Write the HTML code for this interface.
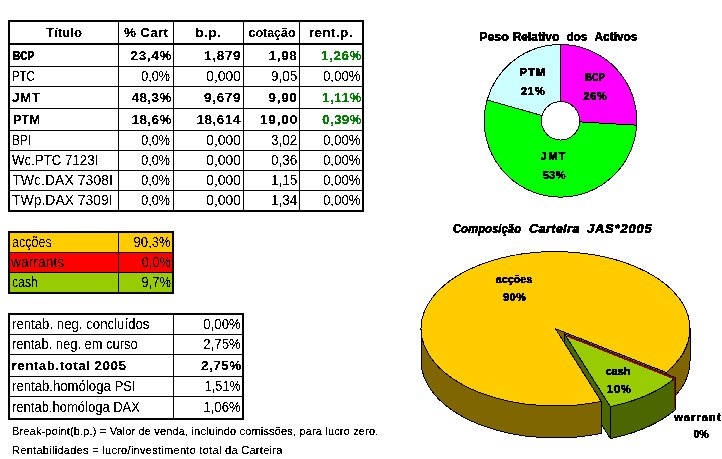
<!DOCTYPE html>
<html><head><meta charset="utf-8"><title>Carteira JAS 2005</title>
<style>
html,body{margin:0;padding:0;background:#fff;}
body{width:722px;height:459px;position:relative;overflow:hidden;font-family:"Liberation Sans",sans-serif;color:#000;}
svg{position:absolute;left:0;top:0;}
.t{position:absolute;white-space:nowrap;filter:url(#cr);}
</style></head><body>
<svg width="722" height="459" viewBox="0 0 722 459" shape-rendering="crispEdges">
<defs>
<filter id="cr" x="-5%" y="-30%" width="110%" height="160%" color-interpolation-filters="sRGB"><feComponentTransfer><feFuncA type="discrete" tableValues="0 0 0 0 0 0 0 0 0 0 0 0 0 0 0 0 0 0 0 0 0 0 1 1 1 1 1 1 1 1 1 1 1 1 1 1 1 1 1 1 1 1 1 1 1 1 1 1 1 1"/></feComponentTransfer></filter>
<filter id="cb" x="-5%" y="-30%" width="110%" height="160%" color-interpolation-filters="sRGB"><feComponentTransfer><feFuncA type="discrete" tableValues="0 1"/></feComponentTransfer></filter>
<filter id="cc" x="-5%" y="-30%" width="110%" height="160%" color-interpolation-filters="sRGB"><feComponentTransfer><feFuncA type="discrete" tableValues="0 0 1 1 1 1"/></feComponentTransfer></filter>
<filter id="cs" x="-5%" y="-30%" width="110%" height="160%" color-interpolation-filters="sRGB"><feComponentTransfer><feFuncA type="discrete" tableValues="0 0 0 0 0 0 0 0 0 0 0 0 0 0 0 0 0 0 1 1 1 1 1 1 1 1 1 1 1 1 1 1 1 1 1 1 1 1 1 1 1 1 1 1 1 1 1 1 1 1"/></feComponentTransfer></filter>
</defs>
<rect x="8" y="20" width="356" height="2" fill="#000"/>
<rect x="8" y="43" width="356" height="2" fill="#000"/>
<rect x="8" y="210" width="356" height="2" fill="#000"/>
<rect x="8" y="20" width="2" height="192" fill="#000"/>
<rect x="362" y="20" width="2" height="192" fill="#000"/>
<rect x="118" y="22" width="1" height="188" fill="#000"/>
<rect x="173" y="22" width="1" height="188" fill="#000"/>
<rect x="243" y="22" width="1" height="188" fill="#000"/>
<rect x="299" y="22" width="1" height="188" fill="#000"/>
<rect x="10" y="66" width="352" height="1" fill="#000"/>
<rect x="10" y="86" width="352" height="1" fill="#000"/>
<rect x="10" y="108" width="352" height="1" fill="#000"/>
<rect x="10" y="130" width="352" height="1" fill="#000"/>
<rect x="10" y="150" width="352" height="1" fill="#000"/>
<rect x="10" y="170" width="352" height="1" fill="#000"/>
<rect x="10" y="190" width="352" height="1" fill="#000"/>
<rect x="8" y="231" width="166" height="63" fill="#000"/>
<rect x="10" y="233" width="108" height="19" fill="#FFCC00"/>
<rect x="119" y="233" width="53" height="19" fill="#FFCC00"/>
<rect x="10" y="253" width="108" height="19" fill="#FF0000"/>
<rect x="119" y="253" width="53" height="19" fill="#FF0000"/>
<rect x="10" y="273" width="108" height="19" fill="#99CC00"/>
<rect x="119" y="273" width="53" height="19" fill="#99CC00"/>
<rect x="8" y="313" width="236" height="2" fill="#000"/>
<rect x="8" y="418" width="236" height="2" fill="#000"/>
<rect x="8" y="313" width="2" height="107" fill="#000"/>
<rect x="242" y="313" width="2" height="107" fill="#000"/>
<rect x="173" y="315" width="1" height="103" fill="#000"/>
<rect x="10" y="334" width="232" height="1" fill="#000"/>
<rect x="10" y="354" width="232" height="1" fill="#000"/>
<rect x="10" y="376" width="232" height="1" fill="#000"/>
<rect x="10" y="396" width="232" height="1" fill="#000"/>
<path d="M560.50,44.50 A76.3,76.3 0 0 1 636.67,125.18 L579.67,121.90 A19.2,19.2 0 0 0 560.50,101.60 Z" fill="#FF00FF" stroke="#000" stroke-width="1" stroke-linejoin="round" shape-rendering="crispEdges"/>
<path d="M636.67,125.18 A76.3,76.3 0 1 1 487.10,99.96 L542.03,115.56 A19.2,19.2 0 1 0 579.67,121.90 Z" fill="#00FF00" stroke="#000" stroke-width="1" stroke-linejoin="round" shape-rendering="crispEdges"/>
<path d="M487.10,99.96 A76.3,76.3 0 0 1 560.50,44.50 L560.50,101.60 A19.2,19.2 0 0 0 542.03,115.56 Z" fill="#CCFFFF" stroke="#000" stroke-width="1" stroke-linejoin="round" shape-rendering="crispEdges"/>
<g shape-rendering="crispEdges" stroke-linejoin="round"><path d="M555.50,328.75 L666.34,372.50 L666.34,404.50 L555.5,360.75 Z" fill="#806600" stroke="#000" stroke-width="1"/><path d="M564.60,334.00 L610.38,406.64 L610.38,438.64 L564.6,366.0 Z" fill="#4C6600" stroke="#000" stroke-width="1"/><path d="M555.50,328.75 L601.28,401.39 A134.5,77.25 0 1 1 666.34,372.50 Z" fill="#FFCC00" stroke="#000" stroke-width="1"/><path d="M690.00,328.75 A134.5,77.25 0 0 1 666.34,372.50 L666.34,404.50 A134.5,77.25 0 0 0 690.00,360.75 Z" fill="#806600" stroke="#000" stroke-width="1"/><path d="M601.28,401.39 A134.5,77.25 0 0 1 421.00,328.75 L421.00,360.75 A134.5,77.25 0 0 0 601.28,433.39 Z" fill="#806600" stroke="#000" stroke-width="1"/><path d="M675.44,377.75 A134.5,77.25 0 0 1 610.38,406.64 L610.38,438.64 A134.5,77.25 0 0 0 675.44,409.75 Z" fill="#4C6600" stroke="#000" stroke-width="1"/><path d="M564.60,334.00 L675.44,377.75 A134.5,77.25 0 0 1 610.38,406.64 Z" fill="#99CC00" stroke="#000" stroke-width="1"/><path d="M567.10,335.90 L674.54,378.65 L674.54,407.75" fill="none" stroke="#990000" stroke-width="1.6"/></g>
</svg>
<div class="t" style="font-size:13.5px;font-weight:bold;-webkit-text-stroke:0.15px;filter:url(#cb);left:-135.65px;width:400px;text-align:center;transform:scaleX(0.977);transform-origin:50% 50%;top:26px;line-height:13.5px;">Título</div>
<div class="t" style="font-size:13.5px;font-weight:bold;-webkit-text-stroke:0.15px;filter:url(#cb);letter-spacing:0.25px;left:-53.97px;width:400px;text-align:center;top:26px;line-height:13.5px;">% Cart</div>
<div class="t" style="font-size:13.5px;font-weight:bold;-webkit-text-stroke:0.15px;filter:url(#cb);letter-spacing:0.3px;left:8.20px;width:400px;text-align:center;top:26px;line-height:13.5px;">b.p.</div>
<div class="t" style="font-size:13.5px;font-weight:bold;-webkit-text-stroke:0.15px;filter:url(#cb);left:71.50px;width:400px;text-align:center;transform:scaleX(0.921);transform-origin:50% 50%;top:26px;line-height:13.5px;">cotação</div>
<div class="t" style="font-size:13.5px;font-weight:bold;-webkit-text-stroke:0.15px;filter:url(#cb);letter-spacing:0.39px;left:130.89px;width:400px;text-align:center;top:26px;line-height:13.5px;">rent.p.</div>
<div class="t" style="font-size:13.5px;font-weight:bold;-webkit-text-stroke:0.3px;filter:url(#cc);left:12.700000000000001px;transform:scaleX(0.74);transform-origin:0 50%;top:49px;line-height:13.5px;">BCP</div>
<div class="t" style="font-size:13.5px;font-weight:bold;-webkit-text-stroke:0.15px;filter:url(#cb);letter-spacing:0.66px;right:549.94px;top:49px;line-height:13.5px;">23,4%</div>
<div class="t" style="font-size:13.5px;font-weight:bold;-webkit-text-stroke:0.15px;filter:url(#cb);letter-spacing:0.6px;right:480.90px;top:49px;line-height:13.5px;">1,879</div>
<div class="t" style="font-size:13.5px;font-weight:bold;-webkit-text-stroke:0.15px;filter:url(#cb);letter-spacing:0.64px;right:424.56px;top:49px;line-height:13.5px;">1,98</div>
<div class="t" style="font-size:13.5px;font-weight:bold;-webkit-text-stroke:0.15px;filter:url(#cb);color:#008000;letter-spacing:0.53px;right:359.97px;top:49px;line-height:13.5px;">1,26%</div>
<div class="t" style="font-size:14px;left:12.0px;transform:scaleX(0.804);transform-origin:0 50%;top:69px;line-height:14px;">PTC</div>
<div class="t" style="font-size:14px;right:551.80px;transform:scaleX(0.899);transform-origin:100% 50%;top:69px;line-height:14px;">0,0%</div>
<div class="t" style="font-size:14px;right:480.80px;transform:scaleX(0.996);transform-origin:100% 50%;top:69px;line-height:14px;">0,000</div>
<div class="t" style="font-size:14px;right:425.10px;transform:scaleX(0.965);transform-origin:100% 50%;top:69px;line-height:14px;">9,05</div>
<div class="t" style="font-size:14px;right:360.90px;transform:scaleX(0.952);transform-origin:100% 50%;top:69px;line-height:14px;">0,00%</div>
<div class="t" style="font-size:13.5px;font-weight:bold;-webkit-text-stroke:0.15px;filter:url(#cb);letter-spacing:0.5px;left:12.0px;top:91px;line-height:13.5px;">JMT</div>
<div class="t" style="font-size:13.5px;font-weight:bold;-webkit-text-stroke:0.15px;filter:url(#cb);letter-spacing:0.38px;right:550.22px;top:91px;line-height:13.5px;">48,3%</div>
<div class="t" style="font-size:13.5px;font-weight:bold;-webkit-text-stroke:0.15px;filter:url(#cb);letter-spacing:0.65px;right:480.85px;top:91px;line-height:13.5px;">9,679</div>
<div class="t" style="font-size:13.5px;font-weight:bold;-webkit-text-stroke:0.15px;filter:url(#cb);letter-spacing:0.64px;right:424.56px;top:91px;line-height:13.5px;">9,90</div>
<div class="t" style="font-size:13.5px;font-weight:bold;-webkit-text-stroke:0.15px;filter:url(#cb);color:#008000;letter-spacing:0.47px;right:360.03px;top:91px;line-height:13.5px;">1,11%</div>
<div class="t" style="font-size:13.5px;font-weight:bold;-webkit-text-stroke:0.15px;filter:url(#cb);left:12.9px;transform:scaleX(0.951);transform-origin:0 50%;top:113px;line-height:13.5px;">PTM</div>
<div class="t" style="font-size:13.5px;font-weight:bold;-webkit-text-stroke:0.15px;filter:url(#cb);letter-spacing:0.38px;right:550.22px;top:113px;line-height:13.5px;">18,6%</div>
<div class="t" style="font-size:13.5px;font-weight:bold;-webkit-text-stroke:0.15px;filter:url(#cb);letter-spacing:0.56px;right:480.94px;top:113px;line-height:13.5px;">18,614</div>
<div class="t" style="font-size:13.5px;font-weight:bold;-webkit-text-stroke:0.15px;filter:url(#cb);letter-spacing:0.9px;right:423.80px;top:113px;line-height:13.5px;">19,00</div>
<div class="t" style="font-size:13.5px;font-weight:bold;-webkit-text-stroke:0.15px;filter:url(#cb);color:#008000;letter-spacing:0.28px;right:360.22px;top:113px;line-height:13.5px;">0,39%</div>
<div class="t" style="font-size:14px;left:12.2px;transform:scaleX(0.86);transform-origin:0 50%;top:133px;line-height:14px;">BPI</div>
<div class="t" style="font-size:14px;right:551.80px;transform:scaleX(0.899);transform-origin:100% 50%;top:133px;line-height:14px;">0,0%</div>
<div class="t" style="font-size:14px;right:480.80px;transform:scaleX(0.996);transform-origin:100% 50%;top:133px;line-height:14px;">0,000</div>
<div class="t" style="font-size:14px;right:425.10px;transform:scaleX(0.965);transform-origin:100% 50%;top:133px;line-height:14px;">3,02</div>
<div class="t" style="font-size:14px;right:360.90px;transform:scaleX(0.952);transform-origin:100% 50%;top:133px;line-height:14px;">0,00%</div>
<div class="t" style="font-size:14px;left:12.2px;transform:scaleX(0.948);transform-origin:0 50%;top:153px;line-height:14px;">Wc.PTC 7123I</div>
<div class="t" style="font-size:14px;right:551.80px;transform:scaleX(0.899);transform-origin:100% 50%;top:153px;line-height:14px;">0,0%</div>
<div class="t" style="font-size:14px;right:480.80px;transform:scaleX(0.996);transform-origin:100% 50%;top:153px;line-height:14px;">0,000</div>
<div class="t" style="font-size:14px;right:425.10px;transform:scaleX(0.965);transform-origin:100% 50%;top:153px;line-height:14px;">0,36</div>
<div class="t" style="font-size:14px;right:360.90px;transform:scaleX(0.952);transform-origin:100% 50%;top:153px;line-height:14px;">0,00%</div>
<div class="t" style="font-size:14px;letter-spacing:0.03px;left:12.2px;top:173px;line-height:14px;">TWc.DAX 7308I</div>
<div class="t" style="font-size:14px;right:551.80px;transform:scaleX(0.899);transform-origin:100% 50%;top:173px;line-height:14px;">0,0%</div>
<div class="t" style="font-size:14px;right:480.80px;transform:scaleX(0.996);transform-origin:100% 50%;top:173px;line-height:14px;">0,000</div>
<div class="t" style="font-size:14px;right:425.10px;transform:scaleX(0.965);transform-origin:100% 50%;top:173px;line-height:14px;">1,15</div>
<div class="t" style="font-size:14px;right:360.90px;transform:scaleX(0.952);transform-origin:100% 50%;top:173px;line-height:14px;">0,00%</div>
<div class="t" style="font-size:14px;left:12.2px;transform:scaleX(0.996);transform-origin:0 50%;top:193px;line-height:14px;">TWp.DAX 7309I</div>
<div class="t" style="font-size:14px;right:551.80px;transform:scaleX(0.899);transform-origin:100% 50%;top:193px;line-height:14px;">0,0%</div>
<div class="t" style="font-size:14px;right:480.80px;transform:scaleX(0.996);transform-origin:100% 50%;top:193px;line-height:14px;">0,000</div>
<div class="t" style="font-size:14px;right:425.10px;transform:scaleX(0.965);transform-origin:100% 50%;top:193px;line-height:14px;">1,34</div>
<div class="t" style="font-size:14px;right:360.90px;transform:scaleX(0.952);transform-origin:100% 50%;top:193px;line-height:14px;">0,00%</div>
<div class="t" style="font-size:14px;left:11.799999999999999px;transform:scaleX(0.9);transform-origin:0 50%;top:235px;line-height:14px;">acções</div>
<div class="t" style="font-size:14px;right:551.60px;transform:scaleX(0.935);transform-origin:100% 50%;top:235px;line-height:14px;">90,3%</div>
<div class="t" style="font-size:14px;left:11.399999999999999px;transform:scaleX(0.991);transform-origin:0 50%;top:255px;line-height:14px;">warrants</div>
<div class="t" style="font-size:14px;right:551.40px;transform:scaleX(0.915);transform-origin:100% 50%;top:255px;line-height:14px;">0,0%</div>
<div class="t" style="font-size:14px;left:11.799999999999999px;transform:scaleX(0.872);transform-origin:0 50%;top:275px;line-height:14px;">cash</div>
<div class="t" style="font-size:14px;right:551.40px;transform:scaleX(0.924);transform-origin:100% 50%;top:275px;line-height:14px;">9,7%</div>
<div class="t" style="font-size:14px;left:12.2px;transform:scaleX(0.944);transform-origin:0 50%;top:317px;line-height:14px;">rentab. neg. concluídos</div>
<div class="t" style="font-size:14px;right:481.60px;transform:scaleX(0.942);transform-origin:100% 50%;top:317px;line-height:14px;">0,00%</div>
<div class="t" style="font-size:14px;left:12.2px;transform:scaleX(0.923);transform-origin:0 50%;top:337px;line-height:14px;">rentab. neg. em curso</div>
<div class="t" style="font-size:14px;right:481.60px;transform:scaleX(0.942);transform-origin:100% 50%;top:337px;line-height:14px;">2,75%</div>
<div class="t" style="font-size:13.5px;font-weight:bold;-webkit-text-stroke:0.15px;filter:url(#cb);letter-spacing:0.44px;left:11.6px;top:359px;line-height:13.5px;">rentab.total 2005</div>
<div class="t" style="font-size:13.5px;font-weight:bold;-webkit-text-stroke:0.15px;filter:url(#cb);letter-spacing:0.46px;right:480.34px;top:359px;line-height:13.5px;">2,75%</div>
<div class="t" style="font-size:14px;left:12.2px;transform:scaleX(0.94);transform-origin:0 50%;top:379px;line-height:14px;">rentab.homóloga PSI</div>
<div class="t" style="font-size:14px;right:481.60px;transform:scaleX(0.904);transform-origin:100% 50%;top:379px;line-height:14px;">1,51%</div>
<div class="t" style="font-size:14px;left:12.2px;transform:scaleX(0.929);transform-origin:0 50%;top:400px;line-height:14px;">rentab.homóloga DAX</div>
<div class="t" style="font-size:14px;right:481.60px;transform:scaleX(0.942);transform-origin:100% 50%;top:400px;line-height:14px;">1,06%</div>
<div class="t" style="font-size:11px;filter:url(#cs);letter-spacing:0.16px;left:12px;top:426px;line-height:11px;">Break-point(b.p.) = Valor de venda, incluindo comissões, para lucro zero.</div>
<div class="t" style="font-size:11px;filter:url(#cs);letter-spacing:0.29px;left:12px;top:445px;line-height:11px;">Rentabilidades = lucro/investimento total da Carteira</div>
<div class="t" style="font-size:13px;font-weight:bold;-webkit-text-stroke:0.3px;filter:url(#cc);left:293.85px;width:400px;text-align:center;transform:scaleX(0.956);transform-origin:50% 50%;top:30px;line-height:13px;">Peso</div>
<div class="t" style="font-size:13px;font-weight:bold;-webkit-text-stroke:0.3px;filter:url(#cc);left:335.70px;width:400px;text-align:center;transform:scaleX(0.921);transform-origin:50% 50%;top:30px;line-height:13px;">Relativo</div>
<div class="t" style="font-size:13px;font-weight:bold;-webkit-text-stroke:0.3px;filter:url(#cc);left:377.00px;width:400px;text-align:center;transform:scaleX(0.883);transform-origin:50% 50%;top:30px;line-height:13px;">dos</div>
<div class="t" style="font-size:13px;font-weight:bold;-webkit-text-stroke:0.3px;filter:url(#cc);left:416.15px;width:400px;text-align:center;transform:scaleX(0.914);transform-origin:50% 50%;top:30px;line-height:13px;">Activos</div>
<div class="t" style="font-size:11px;font-weight:bold;-webkit-text-stroke:0.3px;filter:url(#cc);letter-spacing:1.04px;left:332.97px;width:400px;text-align:center;top:67px;line-height:11px;">PTM</div>
<div class="t" style="font-size:11px;font-weight:bold;-webkit-text-stroke:0.3px;filter:url(#cc);letter-spacing:0.94px;left:333.22px;width:400px;text-align:center;top:86px;line-height:11px;">21%</div>
<div class="t" style="font-size:11px;font-weight:bold;-webkit-text-stroke:0.3px;filter:url(#cc);left:394.95px;width:400px;text-align:center;transform:scaleX(0.84);transform-origin:50% 50%;top:72px;line-height:11px;">BCP</div>
<div class="t" style="font-size:11px;font-weight:bold;-webkit-text-stroke:0.3px;filter:url(#cc);letter-spacing:0.59px;left:395.40px;width:400px;text-align:center;top:91px;line-height:11px;">26%</div>
<div class="t" style="font-size:11px;font-weight:bold;-webkit-text-stroke:0.3px;filter:url(#cc);letter-spacing:1.45px;left:353.77px;width:400px;text-align:center;top:151px;line-height:11px;">JMT</div>
<div class="t" style="font-size:11px;font-weight:bold;-webkit-text-stroke:0.3px;filter:url(#cc);letter-spacing:0.34px;left:354.32px;width:400px;text-align:center;top:170px;line-height:11px;">53%</div>
<div class="t" style="font-size:13px;font-weight:bold;-webkit-text-stroke:0.3px;filter:url(#cc);font-style:italic;left:287.40px;width:400px;text-align:center;transform:scaleX(0.874);transform-origin:50% 50%;top:222px;line-height:13px;">Composição</div>
<div class="t" style="font-size:13px;font-weight:bold;-webkit-text-stroke:0.3px;filter:url(#cc);font-style:italic;letter-spacing:0.18px;left:354.29px;width:400px;text-align:center;top:222px;line-height:13px;">Carteira</div>
<div class="t" style="font-size:13px;font-weight:bold;-webkit-text-stroke:0.3px;filter:url(#cc);font-style:italic;letter-spacing:0.79px;left:419.69px;width:400px;text-align:center;top:222px;line-height:13px;">JAS*2005</div>
<div class="t" style="font-size:11px;font-weight:bold;-webkit-text-stroke:0.3px;filter:url(#cc);left:313.85px;width:400px;text-align:center;transform:scaleX(0.984);transform-origin:50% 50%;top:274px;line-height:11px;">acções</div>
<div class="t" style="font-size:11px;font-weight:bold;-webkit-text-stroke:0.3px;filter:url(#cc);letter-spacing:0.49px;left:314.75px;width:400px;text-align:center;top:292px;line-height:11px;">90%</div>
<div class="t" style="font-size:11px;font-weight:bold;-webkit-text-stroke:0.3px;filter:url(#cc);left:418.45px;width:400px;text-align:center;transform:scaleX(0.993);transform-origin:50% 50%;top:366px;line-height:11px;">cash</div>
<div class="t" style="font-size:11px;font-weight:bold;-webkit-text-stroke:0.3px;filter:url(#cc);letter-spacing:0.84px;left:419.27px;width:400px;text-align:center;top:384px;line-height:11px;">10%</div>
<div class="t" style="font-size:11px;font-weight:bold;-webkit-text-stroke:0.3px;filter:url(#cc);letter-spacing:1.11px;left:501.56px;width:400px;text-align:center;top:412px;line-height:11px;">warrants</div>
<div class="t" style="font-size:11px;font-weight:bold;-webkit-text-stroke:0.3px;filter:url(#cc);left:501.00px;width:400px;text-align:center;transform:scaleX(0.956);transform-origin:50% 50%;top:429px;line-height:11px;">0%</div>
</body></html>
